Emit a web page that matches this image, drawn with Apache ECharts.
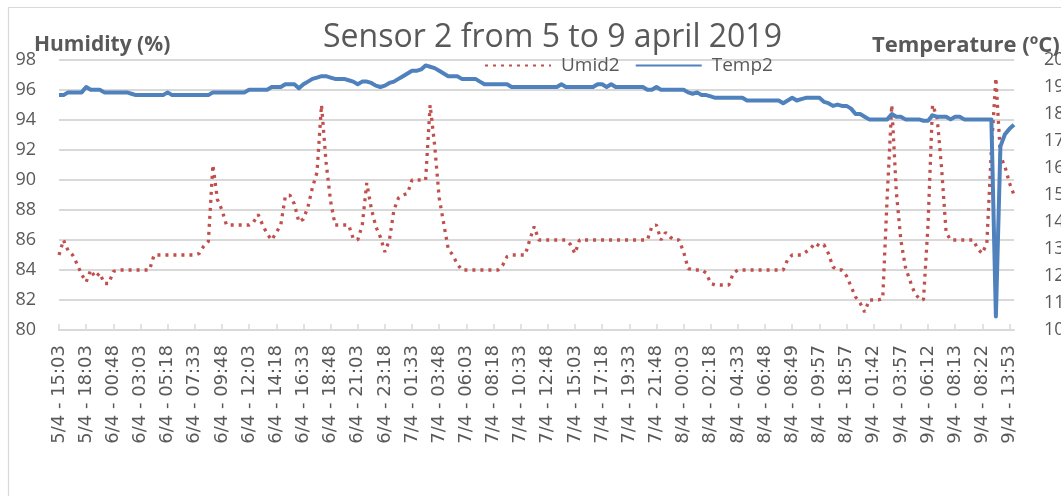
<!DOCTYPE html>
<html>
<head>
<meta charset="utf-8">
<title>Sensor 2 from 5 to 9 april 2019</title>
<script src="https://cdn.jsdelivr.net/npm/echarts@6/dist/echarts.min.js"></script>
<style>
  html, body { margin: 0; padding: 0; background: #fff; }
  #chart { width: 1061px; height: 496px; }
</style>
</head>
<body>
<div id="chart"></div>
<script>
// time labels shown on the x axis (one every 6 readings)
var timeLabels = [
  '5/4 - 15:03', '5/4 - 18:03', '6/4 - 00:48', '6/4 - 03:03', '6/4 - 05:18', '6/4 - 07:33',
  '6/4 - 09:48', '6/4 - 12:03', '6/4 - 14:18', '6/4 - 16:33', '6/4 - 18:48', '6/4 - 21:03',
  '6/4 - 23:18', '7/4 - 01:33', '7/4 - 03:48', '7/4 - 06:03', '7/4 - 08:18', '7/4 - 10:33',
  '7/4 - 12:48', '7/4 - 15:03', '7/4 - 17:18', '7/4 - 19:33', '7/4 - 21:48', '8/4 - 00:03',
  '8/4 - 02:18', '8/4 - 04:33', '8/4 - 06:48', '8/4 - 08:49', '8/4 - 09:57', '8/4 - 18:57',
  '9/4 - 01:42', '9/4 - 03:57', '9/4 - 06:12', '9/4 - 08:13', '9/4 - 08:22', '9/4 - 13:53'
];
var step = 6;

// humidity (%)
var umid2 = [
  85, 86, 85.3, 85, 84.4, 83.7, 83.2, 84, 83.5, 83.8,
  83.1, 83.1, 83.9, 84, 84, 84, 84, 84, 84, 84,
  84, 85, 85, 85, 85, 85, 85, 85, 85, 85,
  85, 85.1, 85.6, 85.9, 91, 88.7, 88, 87, 87, 87,
  87, 87, 87, 87.2, 87.7, 87, 86.4, 86, 86.5, 87,
  88.9, 89, 88.4, 87.2, 87.4, 88.2, 89.5, 90.5, 95, 91.2,
  88.6, 87, 87, 87, 87, 86.1, 86, 87, 89.8, 88.1,
  86.9, 86.2, 85.2, 86, 88, 88.8, 89, 89.1, 90, 90,
  90, 90, 95, 92.3, 88.8, 87.1, 85.4, 85, 84.4, 84,
  84, 84, 84, 84, 84, 84, 84, 84, 84.3, 84.9,
  85, 85, 85, 85, 86, 86.9, 86, 86, 86, 86,
  86, 86, 86, 85.7, 85.1, 86, 86, 86, 86, 86,
  86, 86, 86, 86, 86, 86, 86, 86, 86, 86,
  86, 86.9, 87, 86, 86.5, 86.2, 86, 86, 85.2, 84.1,
  84, 84, 84, 83.8, 83.1, 83, 83, 83, 83, 83.8,
  84, 84, 84, 84, 84, 84, 84, 84, 84, 84,
  84, 84.7, 85, 85, 85, 85.2, 85.4, 85.8, 85.6, 85.7,
  85.1, 84.2, 84, 84, 83.6, 82.9, 82.2, 81.8, 81.2, 82,
  82, 82, 82.1, 89, 95, 89.2, 86, 84.2, 83.3, 82.5,
  82.1, 82, 87, 95, 94.2, 90.8, 86.5, 86, 86, 86,
  86, 86, 86, 85.4, 85.1, 85.8, 92, 96.8, 91.6, 90.9,
  89.8, 89
];

// temperature (ºC)
var temp2 = [
  18.7, 18.7, 18.8, 18.8, 18.8, 18.8, 19.0, 18.9, 18.9, 18.9,
  18.8, 18.8, 18.8, 18.8, 18.8, 18.8, 18.75, 18.7, 18.7, 18.7,
  18.7, 18.7, 18.7, 18.7, 18.8, 18.7, 18.7, 18.7, 18.7, 18.7,
  18.7, 18.7, 18.7, 18.7, 18.8, 18.8, 18.8, 18.8, 18.8, 18.8,
  18.8, 18.8, 18.9, 18.9, 18.9, 18.9, 18.9, 19.0, 19.0, 19.0,
  19.1, 19.1, 19.1, 18.95, 19.1, 19.2, 19.3, 19.35, 19.4, 19.4,
  19.35, 19.3, 19.3, 19.3, 19.25, 19.2, 19.1, 19.2, 19.2, 19.15,
  19.05, 19.0, 19.05, 19.15, 19.2, 19.3, 19.4, 19.5, 19.6, 19.6,
  19.65, 19.8, 19.75, 19.7, 19.6, 19.5, 19.4, 19.4, 19.4, 19.3,
  19.3, 19.3, 19.3, 19.2, 19.1, 19.1, 19.1, 19.1, 19.1, 19.1,
  19.0, 19.0, 19.0, 19.0, 19.0, 19.0, 19.0, 19.0, 19.0, 19.0,
  19.0, 19.1, 19.0, 19.0, 19.0, 19.0, 19.0, 19.0, 19.0, 19.1,
  19.1, 19.0, 19.1, 19.0, 19.0, 19.0, 19.0, 19.0, 19.0, 19.0,
  18.9, 18.9, 19.0, 18.9, 18.9, 18.9, 18.9, 18.9, 18.9, 18.8,
  18.75, 18.8, 18.7, 18.7, 18.65, 18.6, 18.6, 18.6, 18.6, 18.6,
  18.6, 18.6, 18.5, 18.5, 18.5, 18.5, 18.5, 18.5, 18.5, 18.5,
  18.4, 18.5, 18.6, 18.5, 18.55, 18.6, 18.6, 18.6, 18.6, 18.45,
  18.4, 18.3, 18.35, 18.3, 18.3, 18.2, 18.0, 18.0, 17.9, 17.8,
  17.8, 17.8, 17.8, 17.8, 18.0, 17.9, 17.9, 17.8, 17.8, 17.8,
  17.8, 17.75, 17.75, 17.95, 17.9, 17.9, 17.9, 17.8, 17.9, 17.9,
  17.8, 17.8, 17.8, 17.8, 17.8, 17.8, 17.8, 10.5, 16.8, 17.25,
  17.45, 17.6
];

var grey = '#595959';
var gridGrey = '#d9d9d9';

var chart = echarts.init(document.getElementById('chart'));

// one category per reading, only every 6th gets a label
var cats = umid2.map(function (v, i) { return String(i); });

var option = {
  animation: false,
  backgroundColor: '#fff',
  graphic: [{
    type: 'rect',
    silent: true,
    shape: { x: 8.5, y: 7.5, width: 1100, height: 520 },
    style: { fill: 'none', stroke: gridGrey, lineWidth: 1.2 }
  }],
  title: [{
    text: 'Sensor 2 from 5 to 9 april 2019',
    left: 318, top: 17,
    textStyle: { fontFamily: 'Open Sans', fontSize: 32, fontWeight: 'normal', color: grey }
  }, {
    text: 'Humidity (%)',
    left: 29, top: 30,
    textStyle: { fontFamily: 'Open Sans', fontSize: 21, fontWeight: 'bold', color: grey }
  }, {
    text: 'Temperature (ºC)',
    left: 867, top: 30,
    textStyle: { fontFamily: 'Open Sans', fontSize: 22, fontWeight: 'bold', color: grey }
  }],
  legend: {
    data: ['Umid2', 'Temp2'],
    left: 479, top: 51,
    itemWidth: 66, itemHeight: 12, itemGap: 15,
    itemStyle: { opacity: 0 },
    textStyle: { fontFamily: 'Open Sans', fontSize: 19, color: grey, padding: [0, 0, 0, 5] }
  },
  grid: { left: 59, right: 47, top: 60, bottom: 166, outerBoundsMode: 'none' },
  xAxis: {
    type: 'category',
    data: cats,
    boundaryGap: false,
    axisLine: { lineStyle: { color: gridGrey, width: 2 } },
    axisTick: { inside: true, length: 6, interval: step - 1, lineStyle: { color: gridGrey, width: 1.5 } },
    axisLabel: {
      interval: step - 1,
      rotate: 90,
      margin: 15,
      fontFamily: 'DejaVu Sans',
      fontSize: 18,
      color: grey,
      formatter: function (value, idx) { return timeLabels[idx / step] || ''; }
    }
  },
  yAxis: [{
    type: 'value',
    min: 80, max: 98, interval: 2,
    axisLine: { show: false },
    axisTick: { show: false },
    splitLine: { lineStyle: { color: gridGrey, width: 2 } },
    axisLabel: { margin: 23, fontFamily: 'Open Sans', fontSize: 18, color: grey }
  }, {
    type: 'value',
    position: 'right',
    min: 10, max: 20, interval: 1,
    axisLine: { show: false },
    axisTick: { show: false },
    splitLine: { show: false },
    axisLabel: { margin: 30, align: 'left', fontFamily: 'Open Sans', fontSize: 18, color: grey }
  }],
  series: [{
    name: 'Umid2',
    type: 'line',
    yAxisIndex: 0,
    data: umid2,
    symbol: 'none',
    itemStyle: { color: '#C0504D' },
    lineStyle: { color: '#C0504D', width: 3.3, type: [3, 5] }
  }, {
    name: 'Temp2',
    type: 'line',
    yAxisIndex: 1,
    data: temp2,
    symbol: 'none',
    itemStyle: { color: '#4F81BD' },
    lineStyle: { color: '#4F81BD', width: 4, join: 'round' }
  }]
};

chart.setOption(option);
</script>
</body>
</html>
